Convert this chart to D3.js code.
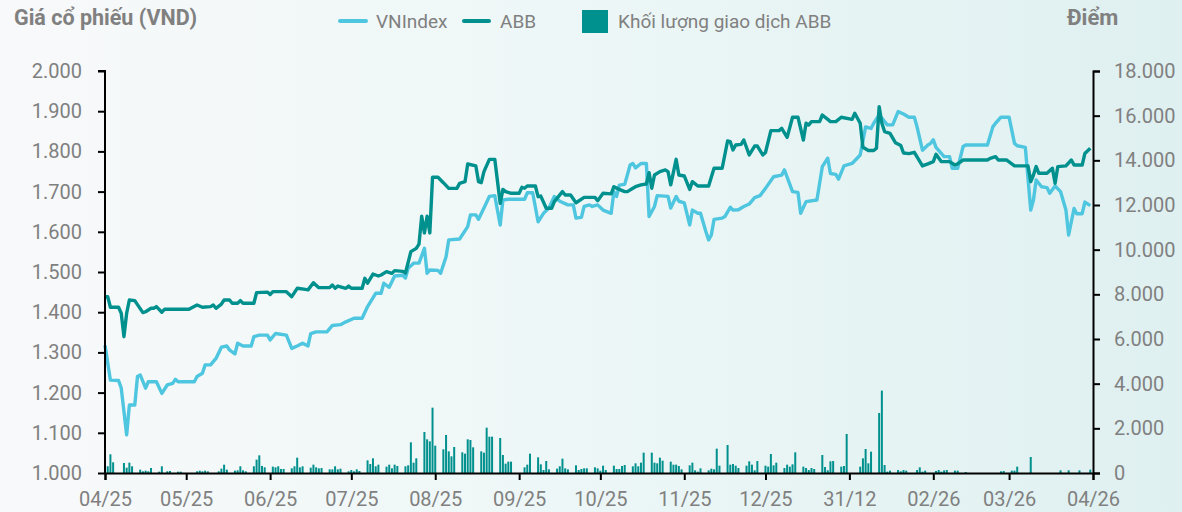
<!DOCTYPE html>
<html>
<head>
<meta charset="utf-8">
<script src="https://cdn.jsdelivr.net/npm/d3@7"></script>
<style>
    body { margin: 0; padding: 0; }
    svg { display: block; font-family: Roboto, sans-serif; }
</style>
</head>
<body>
<div id="vis"></div>
<script>
// data
let vnDates = ["2025-04-01","2025-04-03","2025-04-06","2025-04-07","2025-04-09","2025-04-10","2025-04-12","2025-04-13","2025-04-14","2025-04-16","2025-04-17","2025-04-20","2025-04-22","2025-04-24","2025-04-26","2025-04-27","2025-04-28","2025-05-04","2025-05-05","2025-05-07","2025-05-08","2025-05-10","2025-05-12","2025-05-14","2025-05-16","2025-05-17","2025-05-19","2025-05-20","2025-05-22","2025-05-25","2025-05-26","2025-05-28","2025-05-31","2025-06-01","2025-06-03","2025-06-07","2025-06-09","2025-06-11","2025-06-13","2025-06-15","2025-06-16","2025-06-18","2025-06-22","2025-06-24","2025-06-27","2025-06-29","2025-07-02","2025-07-05","2025-07-07","2025-07-10","2025-07-12","2025-07-13","2025-07-15","2025-07-17","2025-07-20","2025-07-21","2025-07-22","2025-07-24","2025-07-26","2025-07-28","2025-07-29","2025-07-30","2025-08-02","2025-08-03","2025-08-05","2025-08-06","2025-08-10","2025-08-13","2025-08-14","2025-08-16","2025-08-17","2025-08-19","2025-08-21","2025-08-23","2025-08-25","2025-08-26","2025-08-28","2025-09-03","2025-09-04","2025-09-06","2025-09-08","2025-09-10","2025-09-12","2025-09-14","2025-09-16","2025-09-19","2025-09-21","2025-09-22","2025-09-24","2025-09-25","2025-09-27","2025-09-28","2025-09-30","2025-10-02","2025-10-05","2025-10-06","2025-10-07","2025-10-08","2025-10-10","2025-10-12","2025-10-13","2025-10-14","2025-10-16","2025-10-18","2025-10-19","2025-10-21","2025-10-22","2025-10-26","2025-10-27","2025-10-29","2025-10-30","2025-11-01","2025-11-03","2025-11-04","2025-11-06","2025-11-07","2025-11-09","2025-11-10","2025-11-11","2025-11-12","2025-11-15","2025-11-16","2025-11-18","2025-11-19","2025-11-21","2025-11-23","2025-11-25","2025-11-27","2025-11-29","2025-12-01","2025-12-04","2025-12-07","2025-12-08","2025-12-11","2025-12-13","2025-12-14","2025-12-16","2025-12-20","2025-12-22","2025-12-24","2025-12-25","2025-12-27","2025-12-28","2025-12-30","2026-01-02","2026-01-05","2026-01-07","2026-01-09","2026-01-10","2026-01-12","2026-01-15","2026-01-17","2026-01-19","2026-01-21","2026-01-23","2026-01-25","2026-01-26","2026-01-28","2026-01-30","2026-01-31","2026-02-01","2026-02-02","2026-02-05","2026-02-07","2026-02-08","2026-02-10","2026-02-12","2026-02-13","2026-02-21","2026-02-23","2026-02-24","2026-02-26","2026-03-01","2026-03-03","2026-03-04","2026-03-07","2026-03-09","2026-03-10","2026-03-11","2026-03-13","2026-03-15","2026-03-16","2026-03-18","2026-03-20","2026-03-22","2026-03-23","2026-03-25","2026-03-26","2026-03-28","2026-03-29","2026-03-31"];
let vnValues = [1318,1231,1230,1211,1095,1169,1169,1240,1244,1211,1227,1227,1198,1219,1223,1233,1227,1227,1240,1248,1269,1269,1285,1313,1316,1306,1296,1323,1316,1316,1339,1343,1343,1331,1347,1343,1310,1316,1323,1316,1347,1351,1351,1367,1369,1376,1385,1385,1414,1447,1447,1472,1462,1490,1492,1485,1509,1522,1522,1559,1497,1505,1504,1497,1538,1580,1582,1613,1642,1642,1631,1659,1688,1690,1617,1679,1681,1681,1697,1697,1625,1646,1659,1688,1676,1667,1667,1634,1636,1663,1667,1663,1667,1654,1646,1700,1688,1716,1718,1766,1770,1759,1770,1770,1638,1663,1690,1688,1659,1688,1676,1672,1617,1654,1646,1646,1600,1580,1592,1631,1634,1638,1661,1654,1655,1663,1669,1685,1690,1708,1737,1741,1754,1700,1698,1646,1675,1679,1762,1783,1745,1743,1731,1764,1770,1791,1861,1857,1870,1891,1866,1866,1899,1893,1885,1885,1861,1803,1816,1820,1829,1810,1787,1787,1758,1758,1812,1816,1816,1861,1870,1885,1885,1820,1814,1810,1654,1679,1729,1712,1710,1696,1714,1700,1654,1592,1658,1645,1645,1674,1665];

let abbDates = ["2025-04-01","2025-04-02","2025-04-03","2025-04-06","2025-04-07","2025-04-08","2025-04-09","2025-04-10","2025-04-12","2025-04-13","2025-04-15","2025-04-16","2025-04-18","2025-04-19","2025-04-20","2025-04-22","2025-04-23","2025-05-02","2025-05-05","2025-05-07","2025-05-10","2025-05-11","2025-05-12","2025-05-14","2025-05-15","2025-05-17","2025-05-18","2025-05-20","2025-05-21","2025-05-22","2025-05-26","2025-05-27","2025-05-31","2025-06-01","2025-06-02","2025-06-07","2025-06-09","2025-06-11","2025-06-14","2025-06-15","2025-06-17","2025-06-19","2025-06-23","2025-06-24","2025-06-25","2025-06-26","2025-06-29","2025-06-30","2025-07-01","2025-07-05","2025-07-06","2025-07-07","2025-07-09","2025-07-11","2025-07-12","2025-07-14","2025-07-16","2025-07-17","2025-07-20","2025-07-21","2025-07-23","2025-07-25","2025-07-26","2025-07-27","2025-07-28","2025-07-29","2025-07-30","2025-07-31","2025-08-02","2025-08-04","2025-08-06","2025-08-09","2025-08-10","2025-08-12","2025-08-13","2025-08-16","2025-08-17","2025-08-18","2025-08-19","2025-08-21","2025-08-23","2025-08-25","2025-08-26","2025-08-27","2025-08-29","2025-09-01","2025-09-02","2025-09-03","2025-09-04","2025-09-07","2025-09-08","2025-09-09","2025-09-11","2025-09-13","2025-09-14","2025-09-17","2025-09-18","2025-09-20","2025-09-22","2025-09-25","2025-09-29","2025-09-30","2025-10-02","2025-10-05","2025-10-06","2025-10-08","2025-10-10","2025-10-11","2025-10-13","2025-10-14","2025-10-16","2025-10-18","2025-10-19","2025-10-20","2025-10-21","2025-10-23","2025-10-25","2025-10-26","2025-10-27","2025-10-29","2025-10-30","2025-11-01","2025-11-03","2025-11-04","2025-11-06","2025-11-10","2025-11-12","2025-11-15","2025-11-17","2025-11-18","2025-11-19","2025-11-20","2025-11-22","2025-11-23","2025-11-25","2025-11-27","2025-11-28","2025-11-30","2025-12-01","2025-12-03","2025-12-06","2025-12-07","2025-12-09","2025-12-11","2025-12-13","2025-12-15","2025-12-16","2025-12-17","2025-12-18","2025-12-21","2025-12-22","2025-12-24","2025-12-25","2025-12-27","2025-12-29","2026-01-02","2026-01-03","2026-01-05","2026-01-06","2026-01-08","2026-01-10","2026-01-11","2026-01-12","2026-01-13","2026-01-14","2026-01-16","2026-01-18","2026-01-20","2026-01-21","2026-01-23","2026-01-25","2026-01-28","2026-01-30","2026-02-01","2026-02-02","2026-02-04","2026-02-07","2026-02-09","2026-02-10","2026-02-12","2026-02-21","2026-02-22","2026-02-24","2026-02-25","2026-02-28","2026-03-03","2026-03-08","2026-03-09","2026-03-10","2026-03-11","2026-03-12","2026-03-15","2026-03-17","2026-03-18","2026-03-19","2026-03-22","2026-03-24","2026-03-25","2026-03-28","2026-03-29","2026-03-31"];
let abbValues = [7895,7895,7420,7420,7152,6104,7152,7747,7720,7540,7180,7220,7375,7375,7450,7200,7330,7330,7523,7420,7450,7523,7375,7560,7747,7747,7600,7600,7720,7600,7600,8075,8100,7990,8120,8120,7895,8270,8220,8200,8522,8300,8300,8420,8270,8370,8270,8370,8270,8270,8719,8500,8910,8820,8865,9015,8940,9060,9030,8955,9910,10060,10250,11500,10750,11500,10750,13240,13240,13000,12745,12745,12970,13045,13837,13750,13045,13000,13493,14045,14045,12075,12700,12600,12525,12525,12790,12750,12850,12850,12373,12400,11852,11852,12150,12600,12450,12450,12100,12340,12340,12190,12525,12500,12820,12700,12600,12600,12750,12820,12900,12940,13450,12750,13343,13493,13570,13493,12900,14045,13343,13300,12700,13045,12850,12850,13645,13645,14866,14836,14463,14686,14716,14910,14240,14640,14640,14240,14350,15330,15330,15430,15030,15930,15930,14910,15660,15585,15735,15735,16030,15835,15735,15735,15930,15835,16110,15660,14585,14440,14440,14540,16405,15660,15290,15210,14790,14660,14330,14300,14360,13750,13840,13940,14270,13940,13940,13790,13840,14015,14015,14090,14165,14015,14015,13750,13750,13045,13343,13720,13420,13420,13645,12970,13720,13750,14015,13790,13790,14310,14540];

let volDates = ["2025-04-02","2025-04-03","2025-04-04","2025-04-08","2025-04-09","2025-04-10","2025-04-11","2025-04-14","2025-04-15","2025-04-16","2025-04-17","2025-04-18","2025-04-21","2025-04-22","2025-04-24","2025-04-25","2025-04-28","2025-04-29","2025-05-05","2025-05-06","2025-05-07","2025-05-08","2025-05-09","2025-05-13","2025-05-14","2025-05-15","2025-05-16","2025-05-19","2025-05-20","2025-05-21","2025-05-22","2025-05-23","2025-05-26","2025-05-27","2025-05-28","2025-05-29","2025-05-30","2025-06-02","2025-06-03","2025-06-04","2025-06-05","2025-06-06","2025-06-09","2025-06-10","2025-06-11","2025-06-12","2025-06-13","2025-06-16","2025-06-17","2025-06-18","2025-06-19","2025-06-20","2025-06-23","2025-06-24","2025-06-25","2025-06-26","2025-06-27","2025-06-30","2025-07-01","2025-07-02","2025-07-03","2025-07-04","2025-07-07","2025-07-08","2025-07-09","2025-07-10","2025-07-11","2025-07-14","2025-07-15","2025-07-16","2025-07-17","2025-07-18","2025-07-21","2025-07-22","2025-07-23","2025-07-24","2025-07-25","2025-07-28","2025-07-29","2025-07-30","2025-07-31","2025-08-01","2025-08-04","2025-08-05","2025-08-06","2025-08-07","2025-08-08","2025-08-11","2025-08-12","2025-08-13","2025-08-14","2025-08-15","2025-08-18","2025-08-19","2025-08-20","2025-08-21","2025-08-22","2025-08-25","2025-08-26","2025-08-27","2025-08-28","2025-08-29","2025-09-03","2025-09-04","2025-09-05","2025-09-08","2025-09-09","2025-09-10","2025-09-11","2025-09-12","2025-09-15","2025-09-16","2025-09-17","2025-09-18","2025-09-19","2025-09-22","2025-09-23","2025-09-24","2025-09-25","2025-09-26","2025-09-29","2025-09-30","2025-10-01","2025-10-02","2025-10-03","2025-10-06","2025-10-07","2025-10-08","2025-10-09","2025-10-10","2025-10-13","2025-10-14","2025-10-15","2025-10-16","2025-10-17","2025-10-20","2025-10-21","2025-10-22","2025-10-23","2025-10-24","2025-10-27","2025-10-28","2025-10-29","2025-10-30","2025-10-31","2025-11-03","2025-11-04","2025-11-05","2025-11-06","2025-11-07","2025-11-10","2025-11-11","2025-11-12","2025-11-13","2025-11-14","2025-11-17","2025-11-18","2025-11-19","2025-11-20","2025-11-21","2025-11-24","2025-11-25","2025-11-26","2025-11-27","2025-11-28","2025-12-01","2025-12-02","2025-12-03","2025-12-04","2025-12-05","2025-12-08","2025-12-09","2025-12-10","2025-12-11","2025-12-12","2025-12-15","2025-12-16","2025-12-17","2025-12-18","2025-12-19","2025-12-22","2025-12-23","2025-12-24","2025-12-25","2025-12-26","2025-12-29","2025-12-30","2025-12-31","2026-01-05","2026-01-06","2026-01-07","2026-01-08","2026-01-09","2026-01-12","2026-01-13","2026-01-14","2026-01-15","2026-01-16","2026-01-19","2026-01-20","2026-01-21","2026-01-22","2026-01-26","2026-01-27","2026-01-28","2026-01-29","2026-02-02","2026-02-03","2026-02-04","2026-02-05","2026-02-06","2026-02-09","2026-02-10","2026-02-13","2026-02-26","2026-02-27","2026-03-02","2026-03-03","2026-03-04","2026-03-09","2026-03-20","2026-03-23","2026-03-27","2026-03-31"];
let volValues = [300,836,478,448,239,463,300,150,75,105,75,224,60,300,75,90,60,60,75,105,75,105,75,75,195,373,150,105,120,300,120,75,300,597,791,314,254,284,254,300,180,180,209,300,687,254,300,239,373,254,209,224,164,164,300,164,194,75,134,75,164,90,567,403,657,300,373,284,373,209,373,314,300,343,1373,463,657,1836,1508,1418,2926,1224,1060,1702,970,746,1164,926,866,1508,1478,1150,970,911,2030,1627,1627,1568,806,418,508,508,254,373,866,702,388,134,537,164,194,300,642,209,164,343,134,180,209,209,254,209,105,328,134,328,179,179,313,358,299,433,299,463,911,911,463,433,687,552,508,373,373,313,164,343,463,120,60,209,120,194,164,1090,328,1254,373,403,328,224,328,523,373,120,537,328,284,851,343,463,224,373,284,388,926,284,224,134,224,179,806,269,120,523,537,284,313,1747,284,657,1075,433,955,2688,3688,358,60,105,134,75,134,105,134,254,60,105,90,134,60,120,134,105,105,45,75,90,105,105,283,717,120,120,120,150];

let leftTicks = [1000, 1100, 1200, 1300, 1400, 1500, 1600, 1700, 1800, 1900, 2000];
let rightTicks = [0, 2000, 4000, 6000, 8000, 10000, 12000, 14000, 16000, 18000];
let xTickDates = ["2025-04-01","2025-05-01","2025-06-01","2025-07-01","2025-08-01","2025-09-01","2025-10-01","2025-11-01","2025-12-01","2026-01-01","2026-02-01","2026-03-01","2026-04-01"];
let xTickLabels = ["04/25","05/25","06/25","07/25","08/25","09/25","10/25","11/25","12/25","31/12","02/26","03/26","04/26"];

let cVN = '#4ec6df', cABB = '#00918e', cText = '#808080';

let W = 1182, H = 512;
let margin = { top: 71, left: 105, right: 89, bottom: 39 };

let parse = d3.timeParse('%Y-%m-%d');
let fmt = d3.format(',');
let vnFormat = v => fmt(v).replace(/,/g, '.');

let svg = d3.select('#vis')
    .append('svg')
    .attr('width', W)
    .attr('height', H)
    .attr('viewBox', [0, 0, W, H].join(' '));

// background gradient
let grad = svg.append('defs').append('linearGradient')
    .attr('id', 'bg')
    .attr('x1', '0%').attr('x2', '100%').attr('y1', '0%').attr('y2', '0%');
grad.append('stop').attr('offset', '0%').attr('stop-color', '#f8f9fa');
grad.append('stop').attr('offset', '45%').attr('stop-color', '#eef7f7');
grad.append('stop').attr('offset', '100%').attr('stop-color', '#dff0f0');
svg.append('rect').attr('width', W).attr('height', H).attr('fill', 'url(#bg)');

let x = d3.scaleTime()
    .domain([parse(xTickDates[0]), parse(xTickDates[xTickDates.length - 1])])
    .range([margin.left, W - margin.right]);

let yL = d3.scaleLinear().domain([1000, 2000]).range([H - margin.bottom, margin.top]);
let yR = d3.scaleLinear().domain([0, 18000]).range([H - margin.bottom, margin.top]);

// volume bars
let vol = volDates.map((d, i) => ({ date: parse(d), v: volValues[i] }));
svg.append('g')
    .selectAll('rect')
    .data(vol)
    .join('rect')
    .attr('x', d => x(d.date) - 1)
    .attr('y', d => yR(d.v))
    .attr('width', 2)
    .attr('height', d => yR(0) - yR(d.v))
    .attr('fill', cABB);

// lines
let vn = vnDates.map((d, i) => ({ date: parse(d), v: vnValues[i] }));
let abb = abbDates.map((d, i) => ({ date: parse(d), v: abbValues[i] }));

svg.append('path')
    .datum(vn)
    .attr('fill', 'none')
    .attr('stroke', cVN)
    .attr('stroke-width', 3.4)
    .attr('stroke-linejoin', 'round')
    .attr('d', d3.line().x(d => x(d.date)).y(d => yL(d.v)));

svg.append('path')
    .datum(abb)
    .attr('fill', 'none')
    .attr('stroke', cABB)
    .attr('stroke-width', 3.4)
    .attr('stroke-linejoin', 'round')
    .attr('d', d3.line().x(d => x(d.date)).y(d => yR(d.v)));

// axes
let axisL = svg.append('g')
    .attr('transform', `translate(${margin.left},0)`)
    .call(d3.axisLeft(yL).tickValues(leftTicks).tickFormat(vnFormat).tickSize(7).tickPadding(16));

let axisR = svg.append('g')
    .attr('transform', `translate(${W - margin.right},0)`)
    .call(d3.axisRight(yR).tickValues(rightTicks).tickFormat(vnFormat).tickSize(7).tickPadding(14));

let axisB = svg.append('g')
    .attr('transform', `translate(0,${H - margin.bottom})`)
    .call(d3.axisBottom(x).tickValues(xTickDates.map(parse)).tickFormat((d, i) => xTickLabels[i]).tickSize(7).tickPadding(12));

[axisL, axisR, axisB].forEach(a => {
    a.select('.domain').attr('stroke', '#000').attr('stroke-width', 2);
    a.selectAll('.tick line').attr('stroke', '#000').attr('stroke-width', 2);
    a.selectAll('.tick text').attr('fill', cText).style('font-size', '20px').style('font-family', 'Roboto');
});
axisL.select('.domain').attr('d', `M-7,${margin.top}H0V${H - margin.bottom}`);

// titles
svg.append('text')
    .attr('x', 14).attr('y', 25)
    .attr('fill', cText)
    .style('font-size', '21.5px').style('font-weight', 'bold')
    .text('Giá cổ phiếu (VND)');

svg.append('text')
    .attr('x', 1067).attr('y', 25)
    .attr('fill', cText)
    .style('font-size', '22px').style('font-weight', 'bold')
    .text('Điểm');

// legend
let legend = svg.append('g');
legend.append('line').attr('x1', 340).attr('x2', 366).attr('y1', 21).attr('y2', 21)
    .attr('stroke', cVN).attr('stroke-width', 4).attr('stroke-linecap', 'round');
legend.append('text').attr('x', 376).attr('y', 28).text('VNIndex');
legend.append('line').attr('x1', 464).attr('x2', 489).attr('y1', 21).attr('y2', 21)
    .attr('stroke', cABB).attr('stroke-width', 4).attr('stroke-linecap', 'round');
legend.append('text').attr('x', 500).attr('y', 28).text('ABB');
legend.append('rect').attr('x', 582).attr('y', 10).attr('width', 26).attr('height', 23).attr('fill', cABB);
legend.append('text').attr('x', 618).attr('y', 28).text('Khối lượng giao dịch ABB');
legend.selectAll('text').attr('fill', cText).style('font-size', '19px');
</script>
</body>
</html>
